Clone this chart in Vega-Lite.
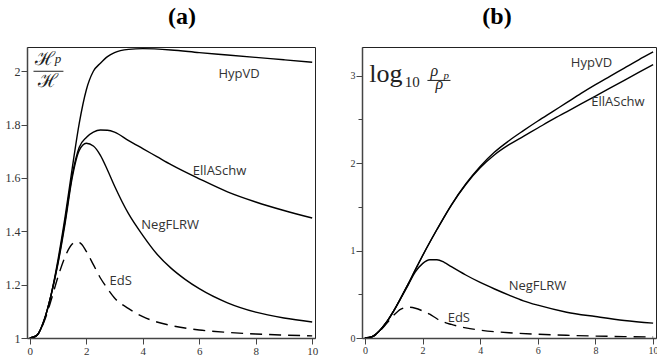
{
  "$schema": "https://vega.github.io/schema/vega-lite/v6.json",
  "background": "white",
  "padding": {"left": 4, "top": 4, "right": 0, "bottom": 0},
  "bounds": "flush",
  "spacing": 47,
  "config": {
    "view": {"stroke": "#222", "strokeWidth": 1},
    "axis": {
      "title": null, "grid": false, "domainColor": "#444", "domainWidth": 1.5,
      "tickColor": "#444", "labelFont": "Liberation Serif", "labelColor": "#333",
      "labelPadding": 1, "labelFlush": false, "labelOverlap": false
    },
    "title": {"font": "Liberation Serif", "fontSize": 24, "fontWeight": "bold", "color": "#000", "offset": 18, "anchor": "middle"},
    "text": {"font": "Open Sans", "fontSize": 13, "color": "#333"},
    "line": {"interpolate": "monotone"}
  },
  "datasets": {
    "a": [
      {"s": "HypVD", "x": 0, "y": 1}, {"s": "HypVD", "x": 0.25, "y": 1.01}, {"s": "HypVD", "x": 0.5, "y": 1.065}, {"s": "HypVD", "x": 0.75, "y": 1.16}, {"s": "HypVD", "x": 1, "y": 1.295}, {"s": "HypVD", "x": 1.25, "y": 1.455}, {"s": "HypVD", "x": 1.5, "y": 1.635}, {"s": "HypVD", "x": 1.75, "y": 1.805}, {"s": "HypVD", "x": 2, "y": 1.93}, {"s": "HypVD", "x": 2.25, "y": 2.0}, {"s": "HypVD", "x": 2.5, "y": 2.03}, {"s": "HypVD", "x": 2.75, "y": 2.055}, {"s": "HypVD", "x": 3, "y": 2.07}, {"s": "HypVD", "x": 3.5, "y": 2.082}, {"s": "HypVD", "x": 4, "y": 2.085}, {"s": "HypVD", "x": 5, "y": 2.08}, {"s": "HypVD", "x": 6, "y": 2.07}, {"s": "HypVD", "x": 7, "y": 2.061}, {"s": "HypVD", "x": 8, "y": 2.052}, {"s": "HypVD", "x": 9, "y": 2.043}, {"s": "HypVD", "x": 10, "y": 2.034},
      {"s": "EllASchw", "x": 0, "y": 1}, {"s": "EllASchw", "x": 0.25, "y": 1.01}, {"s": "EllASchw", "x": 0.5, "y": 1.065}, {"s": "EllASchw", "x": 0.75, "y": 1.16}, {"s": "EllASchw", "x": 1, "y": 1.285}, {"s": "EllASchw", "x": 1.25, "y": 1.44}, {"s": "EllASchw", "x": 1.5, "y": 1.61}, {"s": "EllASchw", "x": 1.75, "y": 1.715}, {"s": "EllASchw", "x": 2, "y": 1.752}, {"s": "EllASchw", "x": 2.25, "y": 1.772}, {"s": "EllASchw", "x": 2.5, "y": 1.78}, {"s": "EllASchw", "x": 2.75, "y": 1.779}, {"s": "EllASchw", "x": 3, "y": 1.772}, {"s": "EllASchw", "x": 3.5, "y": 1.74}, {"s": "EllASchw", "x": 4, "y": 1.71}, {"s": "EllASchw", "x": 4.5, "y": 1.68}, {"s": "EllASchw", "x": 5, "y": 1.65}, {"s": "EllASchw", "x": 6, "y": 1.597}, {"s": "EllASchw", "x": 7, "y": 1.548}, {"s": "EllASchw", "x": 8, "y": 1.51}, {"s": "EllASchw", "x": 9, "y": 1.478}, {"s": "EllASchw", "x": 10, "y": 1.45},
      {"s": "NegFLRW", "x": 0, "y": 1}, {"s": "NegFLRW", "x": 0.25, "y": 1.01}, {"s": "NegFLRW", "x": 0.5, "y": 1.065}, {"s": "NegFLRW", "x": 0.75, "y": 1.16}, {"s": "NegFLRW", "x": 1, "y": 1.28}, {"s": "NegFLRW", "x": 1.25, "y": 1.43}, {"s": "NegFLRW", "x": 1.5, "y": 1.6}, {"s": "NegFLRW", "x": 1.75, "y": 1.703}, {"s": "NegFLRW", "x": 2, "y": 1.73}, {"s": "NegFLRW", "x": 2.25, "y": 1.72}, {"s": "NegFLRW", "x": 2.5, "y": 1.685}, {"s": "NegFLRW", "x": 2.75, "y": 1.63}, {"s": "NegFLRW", "x": 3, "y": 1.57}, {"s": "NegFLRW", "x": 3.5, "y": 1.465}, {"s": "NegFLRW", "x": 4, "y": 1.385}, {"s": "NegFLRW", "x": 4.5, "y": 1.315}, {"s": "NegFLRW", "x": 5, "y": 1.262}, {"s": "NegFLRW", "x": 5.5, "y": 1.22}, {"s": "NegFLRW", "x": 6, "y": 1.185}, {"s": "NegFLRW", "x": 7, "y": 1.132}, {"s": "NegFLRW", "x": 8, "y": 1.097}, {"s": "NegFLRW", "x": 9, "y": 1.075}, {"s": "NegFLRW", "x": 10, "y": 1.06},
      {"s": "EdS", "x": 0, "y": 1}, {"s": "EdS", "x": 0.25, "y": 1.01}, {"s": "EdS", "x": 0.5, "y": 1.06}, {"s": "EdS", "x": 0.75, "y": 1.14}, {"s": "EdS", "x": 1, "y": 1.23}, {"s": "EdS", "x": 1.25, "y": 1.305}, {"s": "EdS", "x": 1.5, "y": 1.352}, {"s": "EdS", "x": 1.65, "y": 1.36}, {"s": "EdS", "x": 1.8, "y": 1.355}, {"s": "EdS", "x": 2, "y": 1.325}, {"s": "EdS", "x": 2.25, "y": 1.275}, {"s": "EdS", "x": 2.5, "y": 1.225}, {"s": "EdS", "x": 2.75, "y": 1.185}, {"s": "EdS", "x": 3, "y": 1.15}, {"s": "EdS", "x": 3.5, "y": 1.11}, {"s": "EdS", "x": 4, "y": 1.08}, {"s": "EdS", "x": 4.5, "y": 1.06}, {"s": "EdS", "x": 5, "y": 1.047}, {"s": "EdS", "x": 6, "y": 1.03}, {"s": "EdS", "x": 7, "y": 1.021}, {"s": "EdS", "x": 8, "y": 1.015}, {"s": "EdS", "x": 9, "y": 1.011}, {"s": "EdS", "x": 10, "y": 1.008}
    ],
    "b": [
      {"s": "HypVD", "x": 0, "y": 0}, {"s": "HypVD", "x": 0.25, "y": 0.015}, {"s": "HypVD", "x": 0.5, "y": 0.08}, {"s": "HypVD", "x": 0.75, "y": 0.18}, {"s": "HypVD", "x": 1, "y": 0.31}, {"s": "HypVD", "x": 1.25, "y": 0.46}, {"s": "HypVD", "x": 1.5, "y": 0.615}, {"s": "HypVD", "x": 1.75, "y": 0.78}, {"s": "HypVD", "x": 2, "y": 0.94}, {"s": "HypVD", "x": 2.5, "y": 1.24}, {"s": "HypVD", "x": 3, "y": 1.52}, {"s": "HypVD", "x": 3.5, "y": 1.76}, {"s": "HypVD", "x": 4, "y": 1.96}, {"s": "HypVD", "x": 4.5, "y": 2.125}, {"s": "HypVD", "x": 5, "y": 2.255}, {"s": "HypVD", "x": 5.5, "y": 2.37}, {"s": "HypVD", "x": 6, "y": 2.48}, {"s": "HypVD", "x": 6.5, "y": 2.585}, {"s": "HypVD", "x": 7, "y": 2.69}, {"s": "HypVD", "x": 7.5, "y": 2.795}, {"s": "HypVD", "x": 8, "y": 2.895}, {"s": "HypVD", "x": 8.5, "y": 2.99}, {"s": "HypVD", "x": 9, "y": 3.085}, {"s": "HypVD", "x": 9.5, "y": 3.18}, {"s": "HypVD", "x": 10, "y": 3.27},
      {"s": "EllASchw", "x": 0, "y": 0}, {"s": "EllASchw", "x": 0.25, "y": 0.015}, {"s": "EllASchw", "x": 0.5, "y": 0.08}, {"s": "EllASchw", "x": 0.75, "y": 0.18}, {"s": "EllASchw", "x": 1, "y": 0.31}, {"s": "EllASchw", "x": 1.25, "y": 0.46}, {"s": "EllASchw", "x": 1.5, "y": 0.615}, {"s": "EllASchw", "x": 1.75, "y": 0.78}, {"s": "EllASchw", "x": 2, "y": 0.94}, {"s": "EllASchw", "x": 2.5, "y": 1.24}, {"s": "EllASchw", "x": 3, "y": 1.52}, {"s": "EllASchw", "x": 3.5, "y": 1.755}, {"s": "EllASchw", "x": 4, "y": 1.945}, {"s": "EllASchw", "x": 4.5, "y": 2.095}, {"s": "EllASchw", "x": 5, "y": 2.21}, {"s": "EllASchw", "x": 5.5, "y": 2.305}, {"s": "EllASchw", "x": 6, "y": 2.4}, {"s": "EllASchw", "x": 6.5, "y": 2.495}, {"s": "EllASchw", "x": 7, "y": 2.585}, {"s": "EllASchw", "x": 7.5, "y": 2.675}, {"s": "EllASchw", "x": 8, "y": 2.765}, {"s": "EllASchw", "x": 8.5, "y": 2.855}, {"s": "EllASchw", "x": 9, "y": 2.945}, {"s": "EllASchw", "x": 9.5, "y": 3.035}, {"s": "EllASchw", "x": 10, "y": 3.125},
      {"s": "NegFLRW", "x": 0, "y": 0}, {"s": "NegFLRW", "x": 0.25, "y": 0.015}, {"s": "NegFLRW", "x": 0.5, "y": 0.08}, {"s": "NegFLRW", "x": 0.75, "y": 0.18}, {"s": "NegFLRW", "x": 1, "y": 0.31}, {"s": "NegFLRW", "x": 1.25, "y": 0.455}, {"s": "NegFLRW", "x": 1.5, "y": 0.605}, {"s": "NegFLRW", "x": 1.75, "y": 0.755}, {"s": "NegFLRW", "x": 2, "y": 0.85}, {"s": "NegFLRW", "x": 2.25, "y": 0.895}, {"s": "NegFLRW", "x": 2.5, "y": 0.895}, {"s": "NegFLRW", "x": 2.75, "y": 0.865}, {"s": "NegFLRW", "x": 3, "y": 0.815}, {"s": "NegFLRW", "x": 3.5, "y": 0.72}, {"s": "NegFLRW", "x": 4, "y": 0.635}, {"s": "NegFLRW", "x": 4.5, "y": 0.56}, {"s": "NegFLRW", "x": 5, "y": 0.49}, {"s": "NegFLRW", "x": 5.5, "y": 0.425}, {"s": "NegFLRW", "x": 6, "y": 0.375}, {"s": "NegFLRW", "x": 7, "y": 0.295}, {"s": "NegFLRW", "x": 8, "y": 0.245}, {"s": "NegFLRW", "x": 9, "y": 0.2}, {"s": "NegFLRW", "x": 10, "y": 0.17},
      {"s": "EdS", "x": 0, "y": 0}, {"s": "EdS", "x": 0.25, "y": 0.013}, {"s": "EdS", "x": 0.5, "y": 0.075}, {"s": "EdS", "x": 0.75, "y": 0.165}, {"s": "EdS", "x": 1, "y": 0.26}, {"s": "EdS", "x": 1.25, "y": 0.33}, {"s": "EdS", "x": 1.5, "y": 0.352}, {"s": "EdS", "x": 1.75, "y": 0.34}, {"s": "EdS", "x": 2, "y": 0.31}, {"s": "EdS", "x": 2.25, "y": 0.272}, {"s": "EdS", "x": 2.5, "y": 0.22}, {"s": "EdS", "x": 2.75, "y": 0.18}, {"s": "EdS", "x": 3, "y": 0.155}, {"s": "EdS", "x": 3.5, "y": 0.115}, {"s": "EdS", "x": 4, "y": 0.09}, {"s": "EdS", "x": 5, "y": 0.06}, {"s": "EdS", "x": 6, "y": 0.043}, {"s": "EdS", "x": 7, "y": 0.031}, {"s": "EdS", "x": 8, "y": 0.022}, {"s": "EdS", "x": 9, "y": 0.016}, {"s": "EdS", "x": 10, "y": 0.012}
    ],
    "la": [
      {"t": "HypVD", "x": 7.41, "y": 1.99},
      {"t": "EllASchw", "x": 6.72, "y": 1.626},
      {"t": "NegFLRW", "x": 4.97, "y": 1.424},
      {"t": "EdS", "x": 3.22, "y": 1.214}
    ],
    "lb": [
      {"t": "HypVD", "x": 7.86, "y": 3.146},
      {"t": "EllASchw", "x": 8.78, "y": 2.7},
      {"t": "NegFLRW", "x": 5.99, "y": 0.598},
      {"t": "EdS", "x": 3.26, "y": 0.232}
    ]
  },
  "hconcat": [
    {
      "width": 288, "height": 291,
      "title": {"text": "(a)", "dx": 11},
      "layer": [
        {
          "data": {"name": "a"},
          "transform": [{"filter": "datum.s != 'EdS'"}],
          "mark": {"type": "line", "color": "#000", "strokeWidth": 1.4, "clip": true},
          "encoding": {
            "x": {"field": "x", "type": "quantitative", "scale": {"domain": [-0.1, 10.1], "nice": false, "zero": false},
              "axis": {"values": [0,1,2,3,4,5,6,7,8,9,10], "labelExpr": "datum.value % 2 == 0 ? datum.label : ''", "labelFontSize": 11, "tickSize": {"condition": {"test": "datum.value % 2 == 0", "value": 6}, "value": 4}}},
            "y": {"field": "y", "type": "quantitative", "scale": {"domain": [1, 2.091], "nice": false, "zero": false},
              "axis": {"values": [1,1.1,1.2,1.3,1.4,1.5,1.6,1.7,1.8,1.9,2.0], "labelExpr": "round(datum.value*10) % 2 == 0 ? format(datum.value, '~g') : ''", "labelFontSize": 12, "tickSize": {"condition": {"test": "round(datum.value*10) % 2 == 0", "value": 6}, "value": 4}}},
            "detail": {"field": "s"}
          }
        },
        {
          "data": {"name": "a"},
          "transform": [{"filter": "datum.s == 'EdS'"}],
          "mark": {"type": "line", "color": "#000", "strokeWidth": 1.4, "strokeDash": [12, 7], "clip": true},
          "encoding": {"x": {"field": "x", "type": "quantitative"}, "y": {"field": "y", "type": "quantitative"}}
        },
        {
          "data": {"name": "la"},
          "mark": {"type": "text", "align": "center", "baseline": "middle"},
          "encoding": {"x": {"field": "x", "type": "quantitative"}, "y": {"field": "y", "type": "quantitative"}, "text": {"field": "t"}}
        },
        {
          "data": {"values": [{"x": 0.52, "y": 2.024, "t": "ℋ"}, {"x": 0.63, "y": 1.941, "t": "ℋ"}]},
          "mark": {"type": "text", "align": "center", "baseline": "alphabetic", "font": "DejaVu Serif", "fontSize": 19, "color": "#222"},
          "encoding": {"x": {"field": "x", "type": "quantitative"}, "y": {"field": "y", "type": "quantitative"}, "text": {"field": "t"}}
        },
        {
          "data": {"values": [{"x": 1.0, "y": 2.03, "t": "p"}]},
          "mark": {"type": "text", "align": "center", "baseline": "alphabetic", "font": "Liberation Serif", "fontStyle": "italic", "fontSize": 13, "color": "#222"},
          "encoding": {"x": {"field": "x", "type": "quantitative"}, "y": {"field": "y", "type": "quantitative"}, "text": {"field": "t"}}
        },
        {
          "data": {"values": [{"x": 0.13, "x2": 1.19, "y": 2.0}]},
          "mark": {"type": "rule", "color": "#222", "strokeWidth": 1},
          "encoding": {"x": {"field": "x", "type": "quantitative"}, "x2": {"field": "x2"}, "y": {"field": "y", "type": "quantitative"}}
        }
      ]
    },
    {
      "width": 294, "height": 291,
      "title": {"text": "(b)", "dx": -12},
      "layer": [
        {
          "data": {"name": "b"},
          "transform": [{"filter": "datum.s != 'EdS'"}],
          "mark": {"type": "line", "color": "#000", "strokeWidth": 1.4, "clip": true},
          "encoding": {
            "x": {"field": "x", "type": "quantitative", "scale": {"domain": [-0.1, 10.1], "nice": false, "zero": false},
              "axis": {"values": [0,1,2,3,4,5,6,7,8,9,10], "labelExpr": "datum.value % 2 == 0 ? datum.label : ''", "labelFontSize": 10, "tickSize": {"condition": {"test": "datum.value % 2 == 0", "value": 6}, "value": 4}}},
            "y": {"field": "y", "type": "quantitative", "scale": {"domain": [0, 3.326], "nice": false, "zero": false},
              "axis": {"values": [0,0.5,1,1.5,2,2.5,3], "labelExpr": "datum.value % 1 == 0 ? format(datum.value, 'd') : ''", "labelFontSize": 10, "tickSize": {"condition": {"test": "datum.value % 1 == 0", "value": 6}, "value": 4}}},
            "detail": {"field": "s"}
          }
        },
        {
          "data": {"name": "b"},
          "transform": [{"filter": "datum.s == 'EdS'"}],
          "mark": {"type": "line", "color": "#000", "strokeWidth": 1.4, "strokeDash": [12, 7], "clip": true},
          "encoding": {"x": {"field": "x", "type": "quantitative"}, "y": {"field": "y", "type": "quantitative"}}
        },
        {
          "data": {"name": "lb"},
          "mark": {"type": "text", "align": "center", "baseline": "middle"},
          "encoding": {"x": {"field": "x", "type": "quantitative"}, "y": {"field": "y", "type": "quantitative"}, "text": {"field": "t"}}
        },
        {
          "data": {"values": [{"x": 0.15, "y": 2.93, "t": "log"}]},
          "mark": {"type": "text", "align": "left", "baseline": "alphabetic", "font": "Liberation Serif", "fontSize": 26, "color": "#222"},
          "encoding": {"x": {"field": "x", "type": "quantitative"}, "y": {"field": "y", "type": "quantitative"}, "text": {"field": "t"}}
        },
        {
          "data": {"values": [{"x": 1.38, "y": 2.87, "t": "10"}]},
          "mark": {"type": "text", "align": "left", "baseline": "alphabetic", "font": "Liberation Serif", "fontSize": 15, "color": "#222"},
          "encoding": {"x": {"field": "x", "type": "quantitative"}, "y": {"field": "y", "type": "quantitative"}, "text": {"field": "t"}}
        },
        {
          "data": {"values": [{"x": 2.41, "y": 2.998, "t": "ρ"}, {"x": 2.58, "y": 2.849, "t": "ρ"}]},
          "mark": {"type": "text", "align": "center", "baseline": "alphabetic", "font": "Liberation Serif", "fontStyle": "italic", "fontSize": 16, "color": "#222"},
          "encoding": {"x": {"field": "x", "type": "quantitative"}, "y": {"field": "y", "type": "quantitative"}, "text": {"field": "t"}}
        },
        {
          "data": {"values": [{"x": 2.82, "y": 2.965, "t": "p"}]},
          "mark": {"type": "text", "align": "center", "baseline": "alphabetic", "font": "Liberation Serif", "fontStyle": "italic", "fontSize": 11, "color": "#222"},
          "encoding": {"x": {"field": "x", "type": "quantitative"}, "y": {"field": "y", "type": "quantitative"}, "text": {"field": "t"}}
        },
        {
          "data": {"values": [{"x": 2.17, "x2": 2.97, "y": 2.944}]},
          "mark": {"type": "rule", "color": "#222", "strokeWidth": 1},
          "encoding": {"x": {"field": "x", "type": "quantitative"}, "x2": {"field": "x2"}, "y": {"field": "y", "type": "quantitative"}}
        }
      ]
    }
  ]
}
